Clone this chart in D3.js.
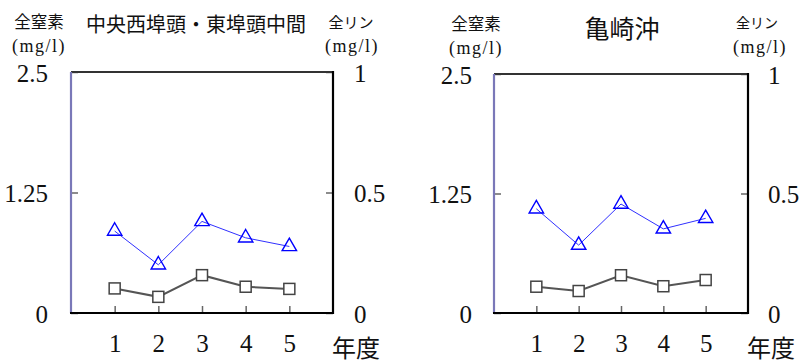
<!DOCTYPE html>
<html><head><meta charset="utf-8">
<script src="https://cdn.jsdelivr.net/npm/d3@7"></script>
<style>
html,body{margin:0;padding:0;background:#fff;}
svg{display:block;}
</style></head>
<body>
<svg id="chart" width="800" height="363"></svg>
<script>
// ---- data ----
const years = ["1", "2", "3", "4", "5"];
const nitrogenWest = [0.85, 0.50, 0.95, 0.78, 0.69];      // 全窒素 (left axis)
const phosphorusWest = [0.102, 0.067, 0.157, 0.109, 0.100]; // 全リン (right axis)
const nitrogenKamezaki = [1.09, 0.71, 1.14, 0.88, 0.99];
const phosphorusKamezaki = [0.110, 0.092, 0.158, 0.112, 0.138];
const nitrogenTicks = [0, 1.25, 2.5];
const nitrogenTickLabels = ["0", "1.25", "2.5"];
const phosphorusTicks = [0, 0.5, 1];
const phosphorusTickLabels = ["0", "0.5", "1"];
const titles = ["中央西埠頭・東埠頭中間", "亀崎沖"];
const leftAxisTitle = ["全窒素", "(mg/l)"];
const rightAxisTitle = ["全リン", "(mg/l)"];
const xAxisTitle = "年度";

const svg = d3.select("#chart");
const numFont = "'Liberation Serif', 'DejaVu Serif', serif";
const cjkFont = "'Noto Sans CJK JP', 'Noto Sans', sans-serif";

function panel(cfg) {
  const g = svg.append("g");
  const x = d3.scalePoint().domain(years).range([cfg.x0, cfg.x1]).padding(1);
  const yN = d3.scaleLinear().domain([0, 2.5]).range([cfg.y1, cfg.y0]);
  const yP = d3.scaleLinear().domain([0, 1]).range([cfg.y1, cfg.y0]);

  // axes
  const ax = d3.axisLeft(yN).tickValues(nitrogenTicks)
    .tickFormat((d, i) => nitrogenTickLabels[i]).tickSize(-7).tickPadding(cfg.padL);
  const gl = g.append("g").attr("transform", `translate(${cfg.x0},0)`).call(ax);
  const ax2 = d3.axisRight(yP).tickValues(phosphorusTicks)
    .tickFormat((d, i) => phosphorusTickLabels[i]).tickSize(-7).tickPadding(cfg.padR);
  const gr = g.append("g").attr("transform", `translate(${cfg.x1},0)`).call(ax2);
  const ax3 = d3.axisBottom(x).tickSize(-7).tickPadding(21);
  const gb = g.append("g").attr("transform", `translate(0,${cfg.y1})`).call(ax3);
  [gl, gr, gb].forEach(a => {
    a.select(".domain").remove();
    a.selectAll("text").attr("font-family", numFont).attr("font-size", 25).attr("fill", "#111");
    a.selectAll("line").attr("stroke", "#666").attr("stroke-width", 1.5);
  });
  gl.selectAll("text").attr("dy", "0.36em");
  gr.selectAll("text").attr("dy", "0.36em");

  // frame
  g.append("line").attr("x1", cfg.x0).attr("x2", cfg.x1).attr("y1", cfg.y0).attr("y2", cfg.y0)
    .attr("stroke", "#333").attr("stroke-width", 2.2);
  g.append("line").attr("x1", cfg.x0).attr("x2", cfg.x0).attr("y1", cfg.y0).attr("y2", cfg.y1)
    .attr("stroke", "#7a78b8").attr("stroke-width", 2.2);
  g.append("line").attr("x1", cfg.x1).attr("x2", cfg.x1).attr("y1", cfg.y0 - 1).attr("y2", cfg.y1 + 1)
    .attr("stroke", "#000").attr("stroke-width", 2.2);
  g.append("line").attr("x1", cfg.x0 - 1).attr("x2", cfg.x1 + 1).attr("y1", cfg.y1).attr("y2", cfg.y1)
    .attr("stroke", "#000").attr("stroke-width", 2.2);

  // phosphorus series (squares)
  const pts = years.map((yr, i) => [x(yr), yP(cfg.phos[i])]);
  g.append("path").attr("d", d3.line()(pts)).attr("fill", "none")
    .attr("stroke", "#555").attr("stroke-width", 2);
  g.selectAll(".sq").data(pts).enter().append("rect")
    .attr("x", d => d[0] - 5.5).attr("y", d => d[1] - 5.5)
    .attr("width", 11).attr("height", 11)
    .attr("fill", "#fff").attr("stroke", "#444").attr("stroke-width", 1.5);

  // nitrogen series (triangles)
  const ptn = years.map((yr, i) => [x(yr), yN(cfg.nit[i])]);
  g.append("path").attr("d", d3.line()(ptn)).attr("fill", "none")
    .attr("stroke", "#3030ff").attr("stroke-width", 1);
  const tri = d3.symbol().type(d3.symbolTriangle).size(90);
  g.selectAll(".tri").data(ptn).enter().append("path")
    .attr("d", tri).attr("transform", d => `translate(${d[0]},${d[1]})`)
    .attr("fill", "none").attr("stroke", "#0000ff").attr("stroke-width", 1.4);

  // titles
  g.append("text").attr("x", cfg.titleX).attr("y", cfg.titleY).attr("text-anchor", "middle")
    .attr("font-family", cjkFont).attr("font-size", cfg.titleSize).attr("fill", "#111").text(cfg.title);
  g.append("text").attr("x", cfg.lTX).attr("y", cfg.lTY).attr("text-anchor", "middle")
    .attr("font-family", cjkFont).attr("font-size", 16.5).attr("fill", "#111").text(leftAxisTitle[0]);
  g.append("text").attr("x", cfg.lTX).attr("y", cfg.lTY + 24).attr("text-anchor", "middle")
    .attr("font-family", numFont).attr("font-size", 18).attr("letter-spacing", 1.5)
    .attr("fill", "#111").text(leftAxisTitle[1]);
  g.append("text").attr("x", cfg.rTX).attr("y", cfg.rTY).attr("text-anchor", "middle")
    .attr("font-family", cjkFont).attr("font-size", cfg.rSize).attr("fill", "#111").text(rightAxisTitle[0]);
  g.append("text").attr("x", cfg.rTX2).attr("y", cfg.rTY2).attr("text-anchor", "middle")
    .attr("font-family", numFont).attr("font-size", 18).attr("letter-spacing", 1.5)
    .attr("fill", "#111").text(rightAxisTitle[1]);
  g.append("text").attr("x", cfg.xTX).attr("y", 357).attr("text-anchor", "start")
    .attr("font-family", cjkFont).attr("font-size", 24).attr("fill", "#111").text(xAxisTitle);
}

panel({x0: 71, x1: 333, y0: 72, y1: 313, padL: 23, padR: 21,
  nit: nitrogenWest, phos: phosphorusWest, title: titles[0],
  titleX: 196, titleY: 32, titleSize: 20,
  lTX: 39, lTY: 28, rTX: 351, rTY: 28, rSize: 15, rTX2: 352, rTY2: 52, xTX: 332});
panel({x0: 494, x1: 748, y0: 74, y1: 313, padL: 22, padR: 20,
  nit: nitrogenKamezaki, phos: phosphorusKamezaki, title: titles[1],
  titleX: 622, titleY: 38, titleSize: 25,
  lTX: 476, lTY: 30, rTX: 757, rTY: 28, rSize: 14, rTX2: 760, rTY2: 53, xTX: 747});
</script>
</body></html>
